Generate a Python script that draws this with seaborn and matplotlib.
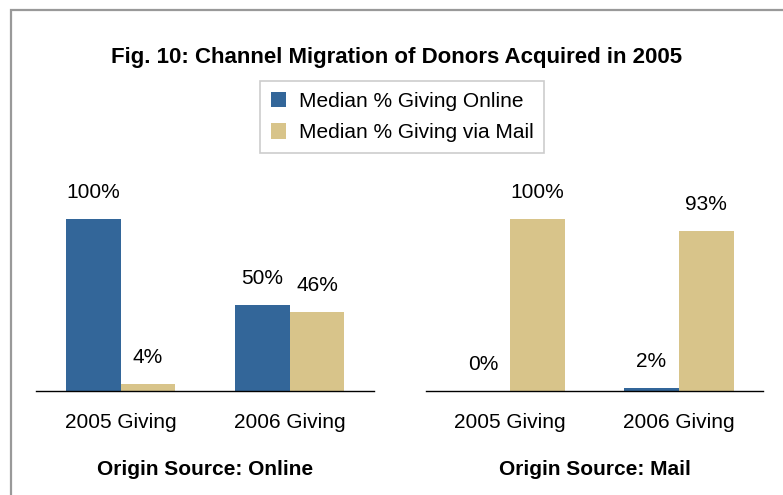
import pandas as pd
import seaborn as sns
import matplotlib.pyplot as plt
from matplotlib.patches import Rectangle, Patch

# data
years = ['2005 Giving', '2006 Giving']
series = ['Median % Giving Online', 'Median % Giving via Mail']
online_origin = {'Median % Giving Online': [100, 50], 'Median % Giving via Mail': [4, 46]}
mail_origin = {'Median % Giving Online': [0, 2], 'Median % Giving via Mail': [100, 93]}
panel_titles = ['Origin Source: Online', 'Origin Source: Mail']

colors = ['#336699', '#D8C48A']


def to_long(d):
    rows = []
    for s in series:
        for y, v in zip(years, d[s]):
            rows.append({'year': y, 'series': s, 'value': v})
    return pd.DataFrame(rows)


sns.set_style('white')
plt.rcParams['font.family'] = ['Liberation Sans', 'DejaVu Sans']
plt.rcParams['text.color'] = 'black'
plt.rcParams['xtick.color'] = 'black'
plt.rcParams['axes.labelcolor'] = 'black'

fig = plt.figure(figsize=(7.83, 4.95), dpi=100)
W, H = 783, 495

# grey frame (only left and top edges visible in the reference)
fig.patches.append(Rectangle((11 / W, -0.2), 1.2, 1.2 - 10 / H, transform=fig.transFigure,
                             fill=False, edgecolor='#999999', linewidth=1.6))

base_px, top_px = 391, 160
ymax = 100 * (base_px - top_px) / 172.0
axes = [fig.add_axes([36 / W, (H - base_px) / H, 338 / W, (base_px - top_px) / H]),
        fig.add_axes([426 / W, (H - base_px) / H, 337 / W, (base_px - top_px) / H])]

for ax, d, t in zip(axes, [online_origin, mail_origin], panel_titles):
    df = to_long(d)
    sns.barplot(data=df, x='year', y='value', hue='series', palette=colors,
                width=0.65, ax=ax, legend=False, saturation=1, linewidth=0)
    for c in ax.containers:
        ax.bar_label(c, fmt='%d%%', padding=12, fontsize=15, color='black')
    ax.set_ylim(0, ymax)
    ax.set_xlim(-0.5, 1.5)
    for s in ['left', 'right', 'top']:
        ax.spines[s].set_visible(False)
    ax.spines['bottom'].set_color('black')
    ax.spines['bottom'].set_linewidth(1.0)
    ax.set_yticks([])
    ax.set_ylabel('')
    ax.tick_params(axis='x', length=0, pad=16, labelsize=15, labelcolor='black')
    ax.set_xlabel(t, fontsize=15, fontweight='bold', labelpad=20, color='black')

fig.text(0.507, 1 - 57 / H, 'Fig. 10: Channel Migration of Donors Acquired in 2005',
         ha='center', va='center', fontsize=16, fontweight='bold', color='black')

handles = [Patch(facecolor=c, edgecolor='none') for c in colors]
leg = fig.legend(handles, series, loc='center', bbox_to_anchor=(402 / W, 1 - 117 / H),
                 fontsize=15, frameon=True, fancybox=False, handlelength=0.75,
                 handleheight=0.75, handletextpad=0.6, borderpad=0.5, labelspacing=0.6,
                 borderaxespad=0)
leg.get_frame().set_edgecolor('#c0c0c0')
leg.get_frame().set_linewidth(1.2)
for txt in leg.get_texts():
    txt.set_color('black')

fig.savefig('out.png', dpi=100)
